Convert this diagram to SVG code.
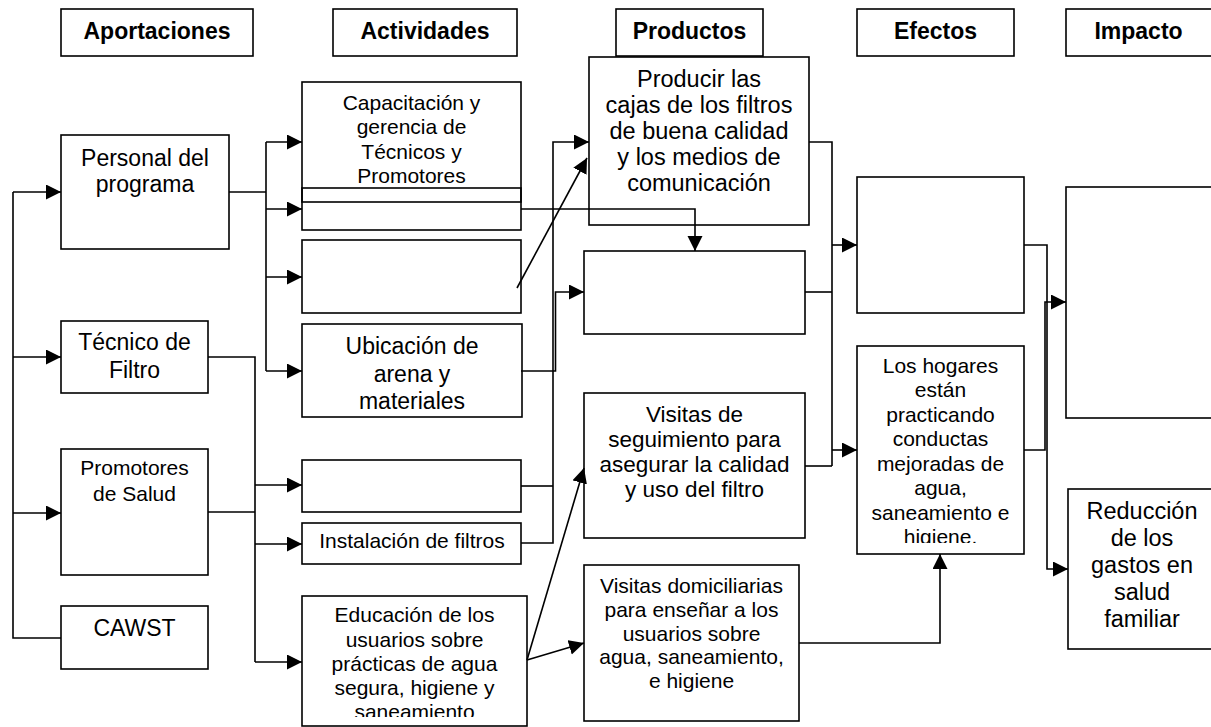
<svg xmlns="http://www.w3.org/2000/svg" width="1211" height="727" viewBox="0 0 1211 727">
<style>
rect.b{fill:#fff;stroke:#000;stroke-width:1.6}
rect.o{fill:none;stroke:#000;stroke-width:1.6}
text{font-family:"Liberation Sans",Arial,Helvetica,sans-serif;fill:#000;text-anchor:middle}
.h{font-weight:bold;font-size:23px}
.c path,.c line{fill:none;stroke:#000;stroke-width:1.6}
.c .a{marker-end:url(#arr)}
</style>
<defs>
<marker id="arr" markerUnits="userSpaceOnUse" markerWidth="16" markerHeight="16" refX="15" refY="7.5" orient="auto">
<path d="M0,0 L15,7.5 L0,15 z" fill="#000"/>
</marker>
<clipPath id="clipEdu"><rect x="302" y="596" width="225" height="121"/></clipPath>
<clipPath id="clipHog"><rect x="857" y="346" width="167" height="197"/></clipPath>
</defs>
<rect width="1211" height="727" fill="#fff"/>

<g id="headers">
<g id="h-aportaciones"><rect class="b" x="61" y="9" width="192" height="47"/><text class="h" x="157" y="39">Aportaciones</text></g>
<g id="h-actividades"><rect class="b" x="333" y="9" width="184" height="47"/><text class="h" x="425" y="39">Actividades</text></g>
<g id="h-productos"><rect class="b" x="616" y="9" width="147" height="47"/><text class="h" x="689.5" y="39">Productos</text></g>
<g id="h-efectos"><rect class="b" x="857" y="9" width="157" height="47"/><text class="h" x="935.5" y="39">Efectos</text></g>
<g id="h-impacto"><rect class="b" x="1066" y="9" width="150" height="47"/><text class="h" x="1138.5" y="39">Impacto</text></g>
</g>

<g id="n-personal"><rect class="b" x="61" y="135" width="168" height="114"/><text x="145" y="166" font-size="23">Personal del</text><text x="145" y="192" font-size="23">programa</text></g>
<g id="n-tecnico"><rect class="b" x="61" y="321" width="147" height="72"/><text x="134.5" y="350" font-size="23">Técnico de</text><text x="134.5" y="378" font-size="23">Filtro</text></g>
<g id="n-promotores"><rect class="b" x="61" y="449" width="147" height="126"/><text x="134.5" y="475" font-size="21">Promotores</text><text x="134.5" y="501" font-size="21">de Salud</text></g>
<g id="n-cawst"><rect class="b" x="61" y="606" width="147" height="63"/><text x="134.5" y="636" font-size="23">CAWST</text></g>

<g id="n-capacitacion"><rect class="b" x="302" y="82" width="219" height="120"/>
<text x="411.5" y="110" font-size="21">Capacitación y</text><text x="411.5" y="134" font-size="21">gerencia de</text><text x="411.5" y="159" font-size="21">Técnicos y</text><text x="411.5" y="183" font-size="21">Promotores</text></g>
<g id="n-act-empty1"><rect class="o" x="302" y="188" width="219" height="42"/></g>
<g id="n-act-empty2"><rect class="b" x="302" y="240" width="219" height="73"/></g>
<g id="n-ubicacion"><rect class="b" x="302" y="324" width="220" height="93"/>
<text x="412" y="354" font-size="23">Ubicación de</text><text x="412" y="382" font-size="23">arena y</text><text x="412" y="409" font-size="23">materiales</text></g>
<g id="n-act-empty3"><rect class="b" x="302" y="460" width="219" height="52"/></g>
<g id="n-instalacion"><rect class="b" x="302" y="523" width="219" height="41"/><text x="412" y="548" font-size="21">Instalación de filtros</text></g>
<g id="n-educacion"><rect class="b" x="302" y="596" width="225" height="130"/>
<g clip-path="url(#clipEdu)"><text x="414.5" y="622" font-size="21">Educación de los</text><text x="414.5" y="647" font-size="21">usuarios sobre</text><text x="414.5" y="671" font-size="21">prácticas de agua</text><text x="414.5" y="695" font-size="21">segura, higiene y</text><text x="414.5" y="719" font-size="21">saneamiento</text></g></g>

<g id="n-producir"><rect class="b" x="589" y="57" width="220" height="168"/>
<text x="699" y="87" font-size="23.5">Producir las</text><text x="699" y="113" font-size="23.5">cajas de los filtros</text><text x="699" y="139" font-size="23.5">de buena calidad</text><text x="699" y="165" font-size="23.5">y los medios de</text><text x="699" y="191" font-size="23.5">comunicación</text></g>
<g id="n-prod-empty"><rect class="b" x="584" y="251" width="221" height="83"/></g>
<g id="n-seguimiento"><rect class="b" x="584" y="393" width="221" height="145"/>
<text x="694.5" y="422" font-size="22.5">Visitas de</text><text x="694.5" y="447" font-size="22.5">seguimiento para</text><text x="694.5" y="472" font-size="22.5">asegurar la calidad</text><text x="694.5" y="497" font-size="22.5">y uso del filtro</text></g>
<g id="n-domiciliarias"><rect class="b" x="584" y="565" width="215" height="156"/>
<text x="691.5" y="593" font-size="21">Visitas domiciliarias</text><text x="691.5" y="617" font-size="21">para enseñar a los</text><text x="691.5" y="641" font-size="21">usuarios sobre</text><text x="691.5" y="664" font-size="21">agua, saneamiento,</text><text x="691.5" y="688" font-size="21">e higiene</text></g>

<g id="n-efe-empty"><rect class="b" x="857" y="177" width="167" height="136"/></g>
<g id="n-hogares"><rect class="b" x="857" y="346" width="167" height="208"/>
<g clip-path="url(#clipHog)"><text x="940.5" y="373" font-size="21">Los hogares</text><text x="940.5" y="397.4" font-size="21">están</text><text x="940.5" y="421.9" font-size="21">practicando</text><text x="940.5" y="446.3" font-size="21">conductas</text><text x="940.5" y="470.7" font-size="21">mejoradas de</text><text x="940.5" y="495.1" font-size="21">agua,</text><text x="940.5" y="519.6" font-size="21">saneamiento e</text><text x="940.5" y="544" font-size="21">higiene.</text></g></g>

<g id="n-imp-empty"><rect class="b" x="1066" y="187" width="152" height="231"/></g>
<g id="n-reduccion"><rect class="b" x="1068" y="489" width="150" height="160"/>
<text x="1142" y="519" font-size="23.5">Reducción</text><text x="1142" y="546" font-size="23.5">de los</text><text x="1142" y="573" font-size="23.5">gastos en</text><text x="1142" y="600" font-size="23.5">salud</text><text x="1142" y="627" font-size="23.5">familiar</text></g>

<g id="connectors" class="c">
<path d="M61,638 H13 V192"/>
<path class="a" d="M13,192 H61"/>
<path class="a" d="M13,357 H61"/>
<path class="a" d="M13,513 H61"/>

<path d="M229,192 H266"/>
<path d="M266,142 V371"/>
<path class="a" d="M266,142 H302"/>
<path class="a" d="M266,209 H302"/>
<path class="a" d="M266,277 H302"/>
<path class="a" d="M266,371 H302"/>

<path d="M208,357 H255 V662"/>
<path d="M208,512 H255"/>
<path class="a" d="M255,485 H302"/>
<path class="a" d="M255,544 H302"/>
<path class="a" d="M255,662 H302"/>

<path class="a" d="M521,209 H695 V251"/>
<path class="a" d="M521,543 H553 V142 H589"/>
<path d="M521,486 H553"/>
<path class="a" d="M521,371 H555.5 V292 H584"/>
<line class="a" x1="517" y1="288" x2="587" y2="158"/>
<line class="a" x1="527" y1="660" x2="584" y2="468"/>
<line class="a" x1="527" y1="660" x2="584" y2="643"/>

<path d="M809,142 H832 V466"/>
<path d="M805,292 H832"/>
<path d="M805,466 H832"/>
<path class="a" d="M832,245 H857"/>
<path class="a" d="M832,450 H857"/>

<path class="a" d="M799,643 H940 V554"/>

<path class="a" d="M1024,245 H1047 V569 H1068"/>
<path class="a" d="M1024,450 H1045 V302 H1066"/>
</g>
</svg>
